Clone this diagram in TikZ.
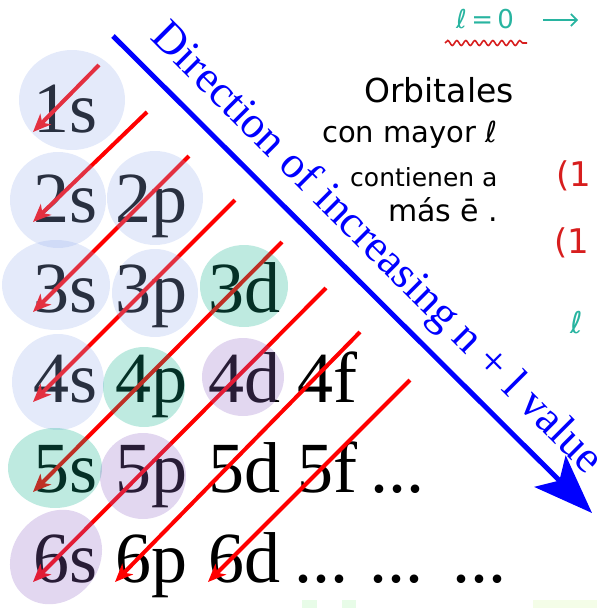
\documentclass[tikz,border=0pt]{standalone}
\usepackage{fontspec}
\setmainfont{Liberation Serif}
\newfontfamily\hand{DejaVu Sans}
\usetikzlibrary{arrows.meta,decorations.pathmorphing}
\definecolor{blobblue}{RGB}{155,178,237}
\definecolor{blobteal}{RGB}{15,178,141}
\definecolor{blobpurple}{RGB}{148,107,200}
\definecolor{handteal}{RGB}{40,180,160}
\definecolor{handred}{RGB}{215,30,30}
\definecolor{faintgreen}{RGB}{232,252,232}
\definecolor{faintyellow}{RGB}{244,253,232}
\begin{document}
\begin{tikzpicture}[x=1pt,y=-1pt,
  orb/.style={anchor=base west, inner sep=0pt, font=\fontsize{72}{72}\selectfont},
  redarrow/.style={draw=red, line width=4pt, -{Stealth[length=18pt,width=15pt,inset=5pt]}},
  bluearrow/.style={draw=blue, line width=5pt, -{Stealth[length=59pt,width=44pt,inset=13pt]}},
  blob/.style={fill opacity=0.27},
  handtext/.style={anchor=base west, inner sep=0pt}]
\useasboundingbox (0,0) rectangle (597,608);
% orbital labels
\node[orb] (o1s) at (33,132) {1s};
\node[orb] (o2s) at (33,222) {2s};
\node[orb] (o2p) at (115,222) {2p};
\node[orb] (o3s) at (33,312) {3s};
\node[orb] (o3p) at (115,312) {3p};
\node[orb] (o3d) at (208,312) {3d};
\node[orb] (o4s) at (33,402) {4s};
\node[orb] (o4p) at (115,402) {4p};
\node[orb] (o4d) at (208,402) {4d};
\node[orb] (o4f) at (297,402) {4f};
\node[orb] (o5s) at (33,492) {5s};
\node[orb] (o5p) at (115,492) {5p};
\node[orb] (o5d) at (208,492) {5d};
\node[orb] (o5f) at (297,492) {5f};
\node[orb] (o5x) at (370,492) {...};
\node[orb] (o6s) at (33,582) {6s};
\node[orb] (o6p) at (115,582) {6p};
\node[orb] (o6d) at (208,582) {6d};
\node[orb] (o6x) at (294,582) {...};
\node[orb] (o6y) at (369,582) {...};
\node[orb] (o6z) at (452,582) {...};
% red arrows
\coordinate (r1) at (99,65);
\coordinate (r2) at (147,112);
\coordinate (r3) at (189,156);
\coordinate (r4) at (235,200);
\coordinate (r5) at (282,242);
\coordinate (r6) at (326,288);
\coordinate (r7) at (360,332);
\coordinate (r8) at (410,380);
\draw[redarrow] (r1) -- (o1s.base west);
\draw[redarrow] (r2) -- (o2s.base west);
\draw[redarrow] (r3) -- (o3s.base west);
\draw[redarrow] (r4) -- (o4s.base west);
\draw[redarrow] (r5) -- (o5s.base west);
\draw[redarrow] (r6) -- (o6s.base west);
\draw[redarrow] (r7) -- (o6p.base west);
\draw[redarrow] (r8) -- (o6d.base west);
% highlighter blobs
\fill[blobblue,blob] (72,100) ellipse [x radius=53, y radius=50];
\fill[blobblue,blob] (58,200) ellipse [x radius=48, y radius=48];
\fill[blobblue,blob] (155,198) ellipse [x radius=48, y radius=47];
\fill[blobblue,blob] (56,285) ellipse [x radius=54, y radius=45];
\fill[blobblue,blob] (155,293) ellipse [x radius=43, y radius=44];
\fill[blobblue,blob] (58,382) ellipse [x radius=46, y radius=48];
\fill[blobteal,blob] (244,286) ellipse [x radius=44, y radius=41];
\fill[blobteal,blob] (144,387) ellipse [x radius=41, y radius=40];
\fill[blobteal,blob] (55,468) ellipse [x radius=47, y radius=40];
\fill[blobpurple,blob] (243,377) ellipse [x radius=41, y radius=39];
\fill[blobpurple,blob] (143,476) ellipse [x radius=43, y radius=43];
\fill[blobpurple,blob] (56,557) ellipse [x radius=50, y radius=43, rotate=50];
% blue direction arrow
\coordinate (bstart) at (113,36);
\coordinate (bend) at (592,513);
\draw[bluearrow] (bstart) -- (bend);
\node[rotate=-45, anchor=base, inner sep=0pt, text=blue, font=\fontsize{45}{45}\selectfont] (dirlabel) at (368,257) {Direction of increasing n + l value};
% handwriting
\node[handtext, text=handteal, font=\hand\fontsize{26}{26}\selectfont] (lzero) at (456,28) {ℓ\,=\,0};
\coordinate (lzeroarrow) at (578,20);
\draw[handteal, line width=1.6pt, -{Straight Barb[length=6pt,width=12pt]}] (543,20) -- (lzeroarrow);
\draw[handred, line width=1.6pt, decorate, decoration={snake, amplitude=2.5pt, segment length=9pt}] (445,43) -- (527,43);
\node[handtext, font=\hand\fontsize{33}{33}\selectfont] (h1) at (364,102) {Orbitales};
\node[handtext, font=\hand\fontsize{29}{29}\selectfont] (h2) at (322,142) {con mayor ℓ};
\node[handtext, font=\hand\fontsize{25}{25}\selectfont] (h3) at (350,186) {contienen a};
\node[handtext, font=\hand\fontsize{30}{30}\selectfont] (h4) at (388,221) {más ē .};
\node[handtext, text=handred, font=\hand\fontsize{34}{34}\selectfont] (p1) at (556,186) {(1};
\node[handtext, text=handred, font=\hand\fontsize{34}{34}\selectfont] (p2) at (554,253) {(1};
\node[handtext, text=handteal, font=\hand\fontsize{30}{30}\selectfont] (l2) at (570,333) {ℓ};
% faint marks at the bottom edge
\fill[faintgreen] (302,600) rectangle (317,608);
\fill[faintgreen] (342,600) rectangle (356,608);
\fill[faintyellow] (533,600) rectangle (597,608);
\end{tikzpicture}
\end{document}
